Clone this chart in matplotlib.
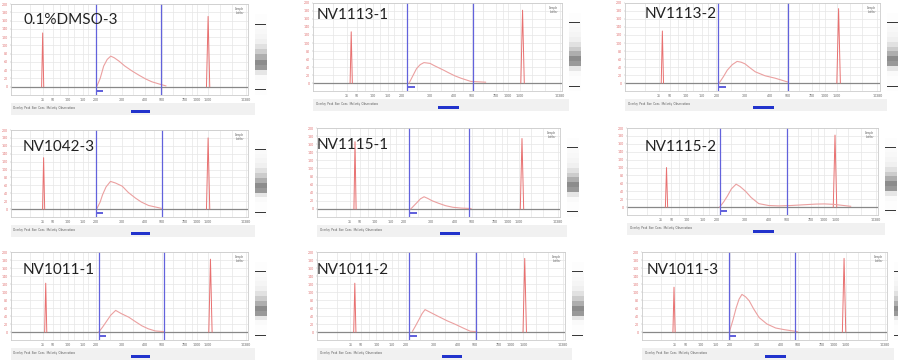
import matplotlib.pyplot as plt
from matplotlib.patches import Rectangle
import numpy as np

plt.rcParams['font.family'] = ['Lato', 'DejaVu Sans']

# sample names, one per panel (row by row)
titles = ['0.1%DMSO-3', 'NV1113-1', 'NV1113-2',
          'NV1042-3', 'NV1115-1', 'NV1115-2',
          'NV1011-1', 'NV1011-2', 'NV1011-3']

# marker peaks: position along the run (0-100) and height (% of axis)
lower_pos = [13.5, 15.5, 14.8, 13.9, 15.8, 15.9, 14.8, 15.4, 13.2]
lower_height = [65, 64, 65, 65, 83, 50, 61, 61, 56]
upper_pos = [84.0, 85.0, 84.6, 84.0, 85.2, 83.7, 85.0, 84.6, 83.3]
upper_height = [85, 91, 93, 90, 87, 91, 91, 92, 92]

# region of interest (blue lines)
region_start = [36.3, 38.3, 37.0, 36.4, 38.4, 37.3, 37.3, 37.6, 35.8]
region_end = [64.0, 65.0, 64.7, 64.3, 63.2, 64.5, 65.3, 64.7, 63.0]

# library smear
smear_x = [
    [36.5, 38.0, 39.5, 41.0, 42.5, 44.0, 46.0, 48.5, 51.6, 54.5, 57.3, 60.0, 62.9, 66.0],
    [39.0, 40.5, 42.0, 43.5, 45.0, 47.5, 49.0, 51.0, 53.0, 55.0, 57.5, 60.0, 64.0, 70.0],
    [37.3, 39.0, 40.5, 42.5, 44.4, 46.0, 47.5, 49.5, 51.6, 55.5, 59.5, 64.7],
    [36.5, 38.0, 39.0, 40.5, 42.4, 44.5, 47.4, 50.0, 53.0, 55.5, 58.6, 64.0],
    [39.0, 40.3, 41.6, 43.0, 44.5, 46.0, 47.9, 50.5, 53.4, 56.5, 60.0, 64.0],
    [37.3, 39.0, 40.4, 42.0, 43.9, 45.5, 47.7, 50.0, 53.0, 57.0, 61.0, 66.0, 71.5, 76.0, 79.5, 83.0, 90.0],
    [37.4, 39.0, 40.4, 42.5, 44.6, 47.0, 50.2, 53.0, 55.8, 58.5, 61.5, 65.0],
    [38.9, 40.2, 41.6, 42.8, 44.0, 46.5, 49.7, 53.0, 56.4, 59.5, 62.4, 65.0],
    [36.0, 37.5, 38.8, 40.0, 41.2, 42.7, 44.2, 46.0, 48.3, 51.5, 55.1, 58.5, 61.8, 64.0],
]
smear_y = [
    [0, 10, 25, 33, 37, 35, 31, 25, 19, 14, 9.5, 6, 3.5, 1],
    [0, 9, 18, 23, 25.5, 24.5, 22, 19, 16, 12.8, 9, 6, 2, 1],
    [0, 8, 16, 23, 27, 26, 24, 19, 14, 9, 6, 1],
    [0, 9, 18, 28, 35, 33, 29, 21, 14, 9, 4.6, 1],
    [0, 4, 8, 12.5, 15, 13, 10, 7, 4, 2, 1, 0.5],
    [0, 7, 14, 23, 29, 26, 20, 12, 4.4, 2, 1.5, 2, 3, 3.8, 4, 3.5, 1],
    [0, 6, 12, 21, 27, 23, 18.5, 13, 7.7, 4, 1.3, 0.5],
    [1, 8, 16, 23, 28, 24, 19, 14, 9.5, 5, 1, 0.5],
    [0, 15, 30, 41, 47, 44, 39, 29, 18, 10, 5, 3, 1.5, 0.5],
]

# size axis labels (bp) and fluorescence labels
bp_labels = ['35', '50', '100', '150', '200', '300', '400', '500', '700', '1000', '1500', '10380']
bp_pos = [13.6, 17.9, 24.2, 30.5, 36.2, 47.4, 57.3, 64.3, 74.1, 79.1, 84.0, 100.0]
fu_labels = ['0', '20', '40', '60', '80', '100', '120', '140', '160', '180', '200']

# layout: plot box of every panel in pixels (left, top, right, bottom)
boxes = [(11, 4, 248, 95), (313, 3, 562, 91), (625, 3, 880, 91),
         (11, 130, 248, 217), (317, 128, 560, 217), (627, 128, 878, 215),
         (11, 252, 248, 340), (317, 252, 565, 340), (642, 252, 887, 340)]
title_xy = [(23, 20), (317, 15), (645, 14),
            (23, 147), (317, 145), (645, 147),
            (23, 270), (317, 270), (647, 270)]
# grey levels of the gel lane, top to bottom
gel_shade = [0.99, 0.99, 0.98, 0.97, 0.96, 0.94, 0.88, 0.8, 0.68, 0.55,
             0.6, 0.9, 0.98, 0.99, 0.99, 0.99]

W, H = 898, 362
fig = plt.figure(figsize=(W / 100, H / 100), dpi=100)


def px_axes(l, t, r, b):
    return fig.add_axes([l / W, 1 - b / H, (r - l) / W, (b - t) / H])


for i, (l, t, r, b) in enumerate(boxes):
    ax = px_axes(l, t, r, b)
    ax.set_xlim(0, 101)
    ax.set_ylim(-10, 100)
    ax.set_xticks(bp_pos)
    ax.set_xticklabels(bp_labels, fontsize=2.5)
    ax.set_xticks([8, 21, 27, 33, 42, 52, 61, 69, 77, 89, 94], minor=True)
    ax.set_yticks(np.linspace(0, 100, len(fu_labels)))
    ax.set_yticklabels(fu_labels, fontsize=2.5)
    ax.tick_params(length=1, width=0.3, pad=1, colors='#aaaaaa')
    ax.tick_params(which='minor', length=0)
    for lab in ax.get_yticklabels():
        lab.set_color('#e07070')
    for lab in ax.get_xticklabels():
        lab.set_color('#666666')
    ax.grid(True, which='both', color='#e6e6e6', lw=0.5)
    ax.set_axisbelow(True)
    for s in ax.spines.values():
        s.set_color('#cccccc')
        s.set_linewidth(0.6)

    # baseline and traces
    ax.axhline(0, color='#888888', lw=0.9)
    w1, w2 = 0.45, 0.7
    ax.plot([lower_pos[i] - w1, lower_pos[i], lower_pos[i] + w1],
            [0, lower_height[i], 0], color='#e87070', lw=0.7)
    ax.plot([upper_pos[i] - w2, upper_pos[i], upper_pos[i] + w2],
            [0, upper_height[i], 0], color='#e87070', lw=0.7)
    ax.plot(smear_x[i], smear_y[i], color='#eba0a0', lw=0.8)

    ax.axvline(region_start[i], color='#6262dc', lw=0.9)
    ax.axvline(region_end[i], color='#6262dc', lw=0.9)
    ax.add_patch(Rectangle((region_start[i], -6), 3, 2, color='#6262dc', lw=0))

    ax.text(0.985, 0.97, 'Sample\nLadder', transform=ax.transAxes, fontsize=2,
            ha='right', va='top', color='#666666')

    # gel strip
    gax = px_axes(r + 7, t + 10, r + 19, b)
    gax.imshow(np.array(gel_shade)[:, None], cmap='gray', vmin=0, vmax=1,
               aspect='auto', extent=[0, 1, 0, 1])
    gax.plot([0.0, 0.85], [0.88, 0.88], color='#333333', lw=0.7)
    gax.plot([0.0, 0.85], [0.07, 0.07], color='#333333', lw=0.7)
    gax.set_xlim(0, 1)
    gax.set_ylim(0, 1)
    gax.axis('off')

    # toolbar under the plot
    tax = px_axes(l, b + 8, r + 7, b + 20)
    tax.set_xlim(0, 1)
    tax.set_ylim(0, 1)
    tax.axis('off')
    tax.add_patch(Rectangle((0, 0), 1, 1, color='#f1f1f1', lw=0))
    tax.text(0.01, 0.55, 'Overlay  Peak  Size  Conc.  Molarity  Observations',
             fontsize=2, color='#555555', va='center')
    tax.add_patch(Rectangle((0.49, 0.15), 0.08, 0.3, color='#2233cc', lw=0))

    tx, ty = title_xy[i]
    fig.text(tx / W, 1 - ty / H, titles[i], fontsize=11, color='#222222',
             ha='left', va='center')

fig.savefig('out.png', dpi=100, facecolor='white')
